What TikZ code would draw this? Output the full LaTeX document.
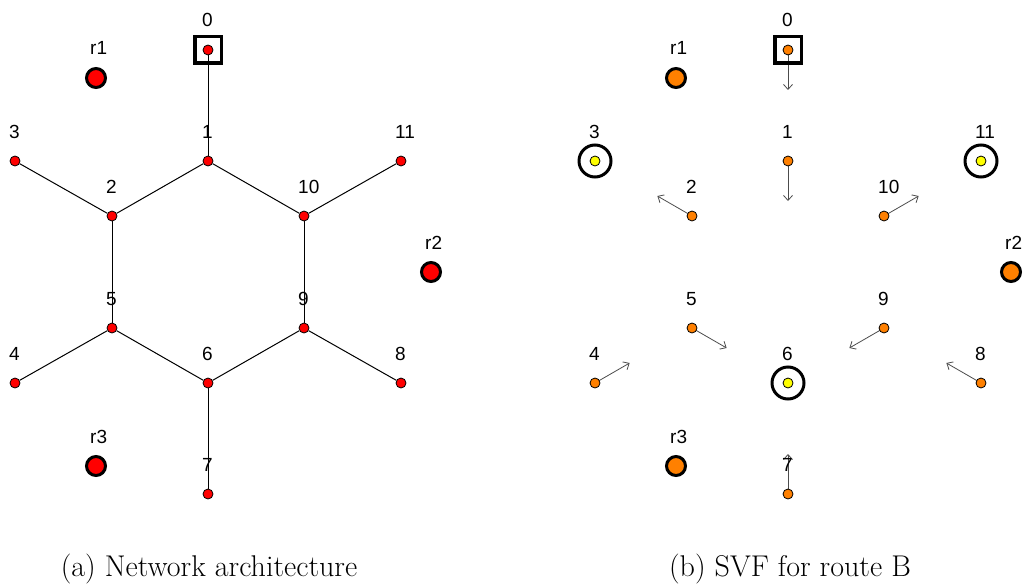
\documentclass[tikz,border=0pt]{standalone}
\usepackage{fontspec}
\newfontfamily\labfont{Liberation Sans}
\usetikzlibrary{arrows.meta,backgrounds,calc}
\definecolor{nodeorange}{RGB}{255,128,0}
\definecolor{nodeyellow}{RGB}{255,255,0}
\begin{document}
\begin{tikzpicture}[x=1pt,y=-1pt,
  host/.style={circle,draw=black,line width=0.8pt,inner sep=0pt,minimum size=10pt},
  router/.style={circle,draw=black,line width=3pt,inner sep=0pt,minimum size=19pt},
  ring/.style={circle,draw=black,line width=3pt,inner sep=0pt,minimum size=32pt},
  srcbox/.style={rectangle,draw=black,line width=3.5pt,inner sep=0pt,minimum size=26.5pt},
  lbl/.style={anchor=base west,inner sep=0pt,font=\labfont\fontsize{19}{19}\selectfont},
  link/.style={line width=1pt,draw=black},
  vec/.style={draw=black!70,line width=0.8pt,-{Straight Barb[length=5pt,width=9pt]}},
  captext/.style={anchor=base,inner sep=0pt,font=\fontsize{30}{34}\selectfont},
]
\useasboundingbox (0,0) rectangle (1024,583);
\clip (0,0) rectangle (1024,583);

% (a) network architecture
\foreach \n/\x/\y in {0/208/50, 1/208/161, 2/112/216, 3/15/161, 4/15/383,
    5/112/328, 6/208/383, 7/208/494, 8/401/383, 9/304/328, 10/304/216, 11/401/161} {
  \node[host,fill=red] (a\n) at (\x,\y) {};
  \node[lbl] (la\n) at (\x-6,\y-23) {\n};
}
\foreach \n/\x/\y in {1/96/78, 2/431/272, 3/96/466} {
  \node[router,fill=red] (ar\n) at (\x,\y) {};
  \node[lbl] (lar\n) at (\x-6,\y-23) {r\n};
}
\node[srcbox] (asrc) at (a0) {};
\begin{scope}[on background layer]
  \foreach \u/\v in {0/1, 1/2, 1/10, 2/3, 2/5, 5/4, 5/6, 6/9, 9/10, 9/8, 6/7, 10/11}
    \draw[link] (a\u) -- (a\v);
\end{scope}

% (b) SVF for route B
\foreach \n/\x/\y/\c in {0/208/50/nodeorange, 1/208/161/nodeorange, 2/112/216/nodeorange,
    3/15/161/nodeyellow, 4/15/383/nodeorange, 5/112/328/nodeorange, 6/208/383/nodeyellow,
    7/208/494/nodeorange, 8/401/383/nodeorange, 9/304/328/nodeorange,
    10/304/216/nodeorange, 11/401/161/nodeyellow} {
  \node[host,fill=\c] (b\n) at (\x+580,\y) {};
  \node[lbl] (lb\n) at (\x+574,\y-23) {\n};
}
\foreach \n/\x/\y in {1/96/78, 2/431/272, 3/96/466} {
  \node[router,fill=nodeorange] (br\n) at (\x+580,\y) {};
  \node[lbl] (lbr\n) at (\x+574,\y-23) {r\n};
}
\node[srcbox] (bsrc) at (b0) {};
\foreach \n in {3,6,11}
  \node[ring] (ring\n) at (b\n) {};
\begin{scope}[on background layer]
  \foreach \n/\a in {0/90, 1/90, 2/210, 4/330, 5/30, 7/270, 8/210, 9/150, 10/330} {
    \coordinate (tip\n) at ($(b\n)+(\a:40)$);
    \draw[vec] (b\n.center) -- (tip\n);
  }
\end{scope}

% captions
\node[captext] (capa) at (209,576) {(a) Network architecture};
\node[captext] (capb) at (790,576) {(b) SVF for route B};
\end{tikzpicture}
\end{document}
